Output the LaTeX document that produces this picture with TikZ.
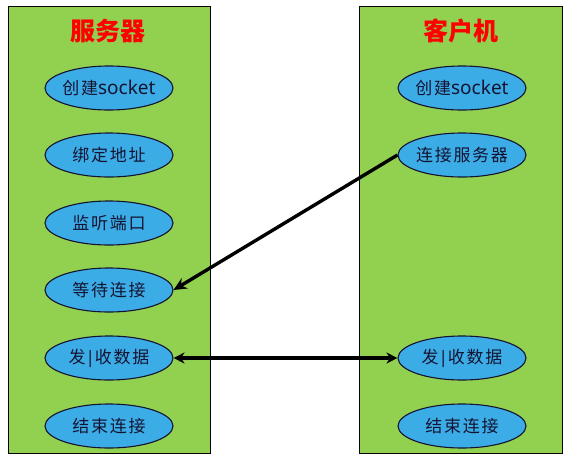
\documentclass[tikz,border=0pt]{standalone}
\usepackage{fontspec}
\newfontfamily\cjk[LetterSpace=10]{Noto Sans CJK SC}
\newfontfamily\cjkt{Noto Sans CJK SC}
\newfontfamily\latinf{Noto Sans}
\usetikzlibrary{shapes.geometric,arrows.meta}
\definecolor{panelgreen}{RGB}{146,208,80}
\definecolor{ellblue}{RGB}{60,172,230}
\definecolor{txtnavy}{RGB}{20,20,50}
\newcommand{\fitbox}[1]{\makebox[80pt][c]{#1}}
\tikzset{
  panel/.style={draw=black, line width=1.4pt, fill=panelgreen},
  stepell/.style={ellipse, draw=txtnavy, line width=1.1pt, fill=ellblue,
    minimum width=128pt, minimum height=44pt, inner sep=0pt,
    font=\cjk\fontsize{17}{19}\selectfont, text=txtnavy},
  titletext/.style={font=\cjkt\bfseries\fontsize{25}{28}\selectfont, text=red},
  conn/.style={line width=3.4pt, black, -{Stealth[length=13pt,width=12pt]}},
  dconn/.style={line width=3.4pt, black, {Stealth[length=11pt,width=11pt]}-{Stealth[length=11pt,width=11pt]}}
}
\begin{document}
\begin{tikzpicture}[x=1pt,y=-1pt]
\useasboundingbox (0,0) rectangle (567,461);
\node[panel, minimum width=202pt, minimum height=447pt, inner sep=0pt, anchor=north west] (lp) at (8,6) {};
\node[panel, minimum width=203pt, minimum height=447pt, inner sep=0pt, anchor=north west] (rp) at (359,6) {};
\node[titletext] (lt) at (108,31) {服务器};
\node[titletext] (rt) at (461,31) {客户机};
\node[stepell] (l1) at (109,88) {\fitbox{创建{\latinf\fontsize{19}{20}\selectfont socket}}};
\node[stepell] (l2) at (109,155) {\fitbox{绑定地址}};
\node[stepell] (l3) at (109,223) {\fitbox{监听端口}};
\node[stepell] (l4) at (109,290) {\fitbox{等待连接}};
\node[stepell] (l5) at (109,358) {\fitbox{发{\latinf\bfseries|}收数据}};
\node[stepell] (l6) at (109,426) {\fitbox{结束连接}};
\node[stepell] (r1) at (462,88) {\fitbox{创建{\latinf\fontsize{19}{20}\selectfont socket}}};
\node[stepell] (r2) at (462,155) {\fitbox{连接服务器}};
\node[stepell] (r5) at (462,358) {\fitbox{发{\latinf\bfseries|}收数据}};
\node[stepell] (r6) at (462,426) {\fitbox{结束连接}};
\draw[conn] (r2.west) -- (l4.east);
\draw[dconn] (l5.east) -- (r5.west);
\end{tikzpicture}
\end{document}
